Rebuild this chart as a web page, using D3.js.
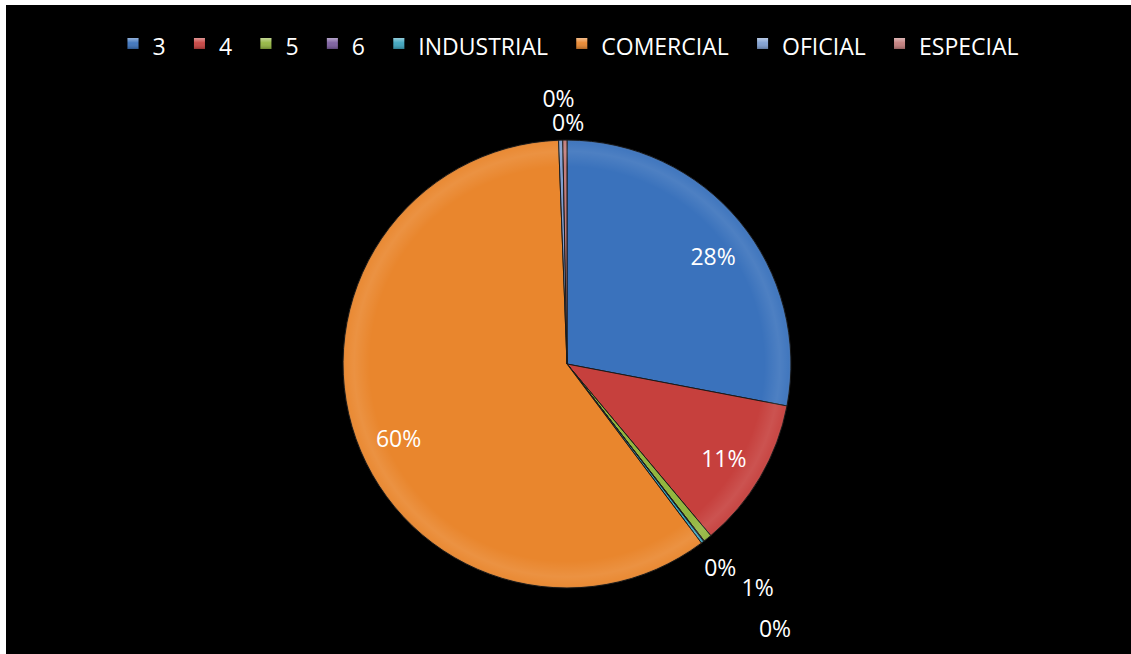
<!DOCTYPE html>
<html>
<head>
<meta charset="utf-8">
<script src="https://cdn.jsdelivr.net/npm/d3@7"></script>
<style>
  html, body { margin: 0; padding: 0; background: #ffffff; }
  svg { display: block; }
</style>
</head>
<body>
<svg id="chart" width="1131" height="654"></svg>
<script>
// Share of consumption by user class
const categories = ["3", "4", "5", "6", "INDUSTRIAL", "COMERCIAL", "OFICIAL", "ESPECIAL"];
const values = [28.0, 10.9, 0.6, 0.05, 0.2, 59.65, 0.3, 0.3];
const colors = ["#3a72bc", "#c6403d", "#93b63f", "#7a5c9e", "#3aa3bd", "#e9862d", "#7f9fd1", "#c27c7b"];

const W = 1131, H = 654;
const svg = d3.select("#chart");
const font = "'Open Sans', sans-serif";

// black plot panel (thin white margin on the left and top)
svg.append("rect").attr("x", 6).attr("y", 5).attr("width", W - 6).attr("height", H - 5).attr("fill", "#000");

const defs = svg.append("defs");

// soft rim highlight for the pie
const rim = defs.append("radialGradient").attr("id", "rim")
  .attr("cx", "50%").attr("cy", "50%").attr("r", "50%");
rim.append("stop").attr("offset", "0%").attr("stop-color", "#fff").attr("stop-opacity", 0);
rim.append("stop").attr("offset", "88%").attr("stop-color", "#fff").attr("stop-opacity", 0);
rim.append("stop").attr("offset", "95%").attr("stop-color", "#fff").attr("stop-opacity", 0.10);
rim.append("stop").attr("offset", "99%").attr("stop-color", "#fff").attr("stop-opacity", 0.04);
rim.append("stop").attr("offset", "100%").attr("stop-color", "#000").attr("stop-opacity", 0.25);

// bevel for legend keys
const key = defs.append("linearGradient").attr("id", "keyShade")
  .attr("x1", 0).attr("y1", 0).attr("x2", 0).attr("y2", 1);
key.append("stop").attr("offset", "0%").attr("stop-color", "#fff").attr("stop-opacity", 0.45);
key.append("stop").attr("offset", "45%").attr("stop-color", "#fff").attr("stop-opacity", 0.05);
key.append("stop").attr("offset", "100%").attr("stop-color", "#000").attr("stop-opacity", 0.25);

// ---- pie ----
const cx = 567, cy = 364, R = 224;
const color = d3.scaleOrdinal().domain(categories).range(colors);
const data = categories.map((c, i) => ({ cat: c, value: values[i] }));
const total = d3.sum(values);
const pct = d3.format(".0%");

const pie = d3.pie().sort(null).value(d => d.value).startAngle(0).endAngle(2 * Math.PI);
const arcs = pie(data);
const arc = d3.arc().innerRadius(0).outerRadius(R);

const g = svg.append("g").attr("transform", `translate(${cx},${cy})`);
g.selectAll("path.slice").data(arcs).join("path")
  .attr("class", "slice")
  .attr("d", arc)
  .attr("fill", d => color(d.data.cat))
  .attr("stroke", "#1a1a1a")
  .attr("stroke-width", 1)
  .attr("stroke-linejoin", "round");

g.append("circle").attr("r", R).attr("fill", "url(#rim)").attr("pointer-events", "none");

// ---- data labels ----
// placement along each slice's mid-angle: [radius px, angle nudge deg]
const labelPlace = {
  "3": [182, 3.0],
  "4": [183, 0.6],
  "5": [293, -1.7],
  "6": [254, 0.6],
  "INDUSTRIAL": [336, -1.0],
  "COMERCIAL": [184, -4.2],
  "OFICIAL": [266, -0.2],
  "ESPECIAL": [242, 0.8]
};
g.selectAll("text.lbl").data(arcs).join("text")
  .attr("class", "lbl")
  .attr("text-anchor", "middle")
  .attr("dominant-baseline", "central")
  .attr("font-family", font)
  .attr("font-size", 23)
  .attr("fill", "#fff")
  .each(function (d) {
    const mid = (d.startAngle + d.endAngle) / 2;
    const o = labelPlace[d.data.cat];
    const r = o[0], a = mid + o[1] * Math.PI / 180;
    d3.select(this)
      .attr("x", r * Math.sin(a))
      .attr("y", -r * Math.cos(a));
  })
  .text(d => pct(d.data.value / total));

// ---- legend ----
const legend = svg.append("g");
const items = legend.selectAll("g").data(categories).join("g");
items.append("rect")
  .attr("width", 11).attr("height", 11).attr("y", -11)
  .attr("fill", d => color(d));
items.append("rect")
  .attr("width", 11).attr("height", 11).attr("y", -11)
  .attr("fill", "url(#keyShade)");
items.append("text")
  .attr("x", 25).attr("y", 0)
  .attr("dy", "0.28em")
  .attr("font-family", font)
  .attr("font-size", 23)
  .attr("fill", "#fff")
  .text(d => d);

const gap = 28.3;
const widths = items.nodes().map(n => 25 + n.querySelector("text").getComputedTextLength());
const totalW = d3.sum(widths) + gap * (widths.length - 1);
let x = 573 - totalW / 2;
items.each(function (d, i) {
  d3.select(this).attr("transform", `translate(${x},49)`);
  x += widths[i] + gap;
});
</script>
</body>
</html>
